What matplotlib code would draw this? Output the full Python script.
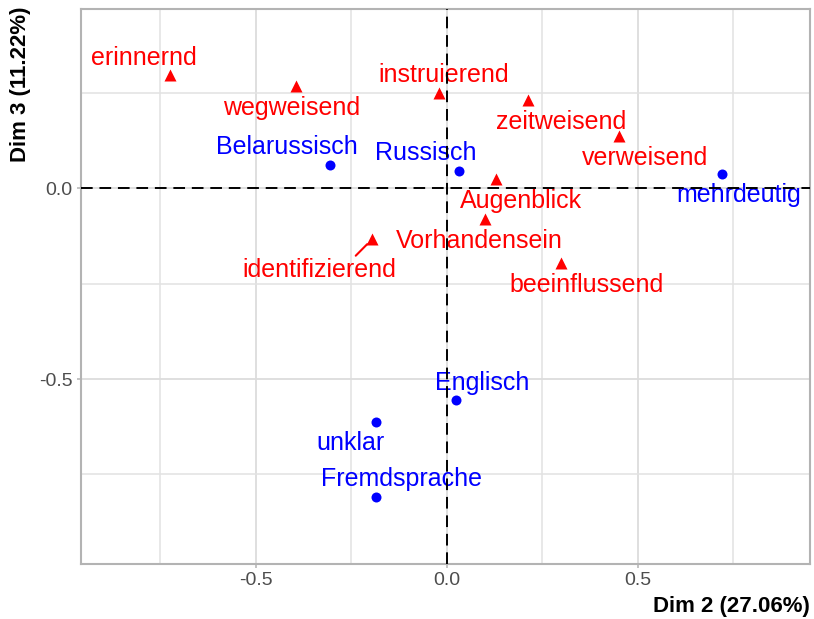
import numpy as np
import matplotlib
matplotlib.use("Agg")
import matplotlib.pyplot as plt

plt.rcParams['font.family'] = ['Liberation Sans', 'DejaVu Sans']

# CA biplot, dimensions 2 and 3
row_names = ["Belarussisch", "Russisch", "mehrdeutig", "Englisch", "unklar", "Fremdsprache"]
row_dim2 = [-0.305, 0.032, 0.721, 0.024, -0.186, -0.185]
row_dim3 = [0.061, 0.045, 0.036, -0.556, -0.613, -0.808]

col_names = ["erinnernd", "wegweisend", "instruierend", "zeitweisend", "verweisend",
             "Augenblick", "Vorhandensein", "identifizierend", "beeinflussend"]
col_dim2 = [-0.726, -0.396, -0.020, 0.213, 0.451, 0.127, 0.099, -0.196, 0.299]
col_dim3 = [0.296, 0.267, 0.250, 0.230, 0.136, 0.024, -0.081, -0.134, -0.197]

xlab = "Dim 2 (27.06%)"
ylab = "Dim 3 (11.22%)"

# label offsets (pixels, right / down) from each point, like ggrepel placed them
row_off = [(-44, -10.7), (-33, -11), (16.5, 28), (25.6, -10.3), (-25.2, 28), (25.5, -10.7)]
col_off = [(-26, -10), (-4, 29), (4, -10.6), (32.5, 29.3), (25.4, 29.3),
           (25.3, 29.3), (-5, 29.3), (-53, 38.3), (25.5, 29)]

W, H = 814, 619
fig = plt.figure(figsize=(W / 100, H / 100), dpi=100)
ax = fig.add_axes([80.7 / W, 1 - 564 / H, (810 - 80.7) / W, (564 - 9) / H])

ax.set_xlim(-0.9589, 0.9503)
ax.set_ylim(-0.9843, 0.4686)

ax.set_xticks([-0.5, 0.0, 0.5])
ax.set_yticks([-0.5, 0.0])
ax.set_xticks([-0.75, -0.25, 0.25, 0.75], minor=True)
ax.set_yticks([-0.75, -0.25, 0.25], minor=True)
ax.set_xticklabels(["-0.5", "0.0", "0.5"])
ax.set_yticklabels(["-0.5", "0.0"])
ax.grid(which='major', color='#DCDCDC', lw=1.3)
ax.grid(which='minor', color='#E2E2E2', lw=1.1)
ax.set_axisbelow(True)
ax.tick_params(which='major', length=3, width=1.1, color='#B3B3B3',
               labelsize=14, labelcolor='#4D4D4D', pad=3)
ax.tick_params(which='minor', length=0)
for s in ax.spines.values():
    s.set_color('#B3B3B3')
    s.set_linewidth(1.5)

# reference lines go on top of the labels, as in the original
ax.axhline(0, color='black', lw=1.4, dashes=(6, 3.5), zorder=5)
ax.axvline(0, color='black', lw=1.4, dashes=(6, 3.5), zorder=5)

ax.plot(row_dim2, row_dim3, 'o', color='blue', ms=7.2, mec='none', zorder=3)
ax.plot(col_dim2, col_dim3, '^', color='red', ms=8.5, mec='none', zorder=3)

px = 0.72  # points per pixel at 100 dpi
for name, x, y, (dx, dy) in zip(row_names, row_dim2, row_dim3, row_off):
    ax.annotate(name, (x, y), xytext=(dx * px, -dy * px), textcoords='offset points',
                ha='center', va='baseline', color='blue', fontsize=18, zorder=4)

for name, x, y, (dx, dy) in zip(col_names, col_dim2, col_dim3, col_off):
    arrow = None
    if name == "identifizierend":
        arrow = dict(arrowstyle='-', color='red', lw=1.5, shrinkA=0, shrinkB=5,
                     relpos=(0.72, 1.0))
    ax.annotate(name, (x, y), xytext=(dx * px, -dy * px), textcoords='offset points',
                ha='center', va='baseline', color='red', fontsize=18, zorder=4,
                arrowprops=arrow)

fig.text(810 / W, 7.3 / H, xlab, ha='right', va='baseline', fontsize=16, fontweight='bold')
fig.text(31 / W, 1 - 6 / H, ylab, ha='right', va='top', rotation=90,
         fontsize=16, fontweight='bold')

fig.savefig("out.png", dpi=100)
